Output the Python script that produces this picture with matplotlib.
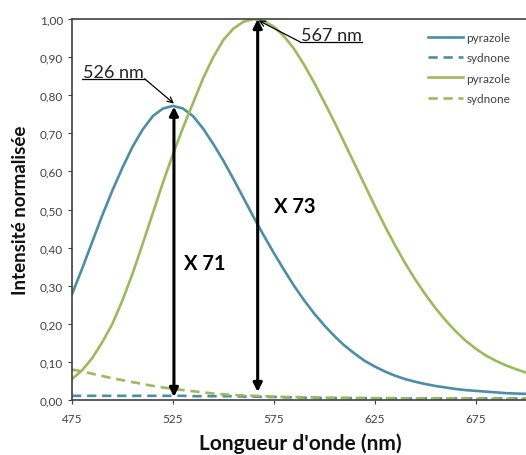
import numpy as np
import matplotlib
matplotlib.use("Agg")
import matplotlib.pyplot as plt
from matplotlib.ticker import FuncFormatter

plt.rcParams['font.family'] = ['Lato', 'DejaVu Sans']

# Données
wl = list(range(475, 701, 5))

pyrazole_1 = [0.278, 0.345, 0.415, 0.485, 0.55, 0.61, 0.665, 0.71, 0.745, 0.765,
              0.772, 0.765, 0.745, 0.712, 0.672, 0.628, 0.58, 0.53, 0.48, 0.432,
              0.386, 0.342, 0.300, 0.262, 0.227, 0.196, 0.168, 0.143, 0.122, 0.103,
              0.088, 0.075, 0.064, 0.055, 0.048, 0.042, 0.037, 0.033, 0.029, 0.026,
              0.024, 0.022, 0.020, 0.018, 0.017, 0.016]
sydnone_1 = [0.011, 0.011, 0.011, 0.011, 0.011, 0.011, 0.011, 0.011, 0.011, 0.011,
             0.011, 0.011, 0.010, 0.010, 0.010, 0.010, 0.010, 0.009, 0.009, 0.008,
             0.008, 0.007, 0.007, 0.006, 0.006, 0.005, 0.005, 0.005, 0.005, 0.005,
             0.004, 0.004, 0.004, 0.004, 0.004, 0.004, 0.004, 0.004, 0.004, 0.004,
             0.004, 0.004, 0.004, 0.004, 0.004, 0.004]
pyrazole_2 = [0.055, 0.078, 0.11, 0.152, 0.20, 0.262, 0.332, 0.41, 0.49, 0.57,
              0.645, 0.715, 0.78, 0.845, 0.90, 0.945, 0.975, 0.993, 1.0, 0.995,
              0.98, 0.955, 0.922, 0.88, 0.833, 0.782, 0.73, 0.675, 0.62, 0.565,
              0.51, 0.457, 0.407, 0.36, 0.317, 0.278, 0.242, 0.21, 0.181, 0.156,
              0.135, 0.117, 0.103, 0.091, 0.081, 0.072]
sydnone_2 = [0.08, 0.075, 0.069, 0.063, 0.057, 0.052, 0.047, 0.042, 0.037, 0.033,
             0.029, 0.026, 0.023, 0.020, 0.017, 0.015, 0.013, 0.012, 0.011, 0.010,
             0.009, 0.008, 0.008, 0.007, 0.007, 0.006, 0.006, 0.006, 0.005, 0.005,
             0.005, 0.005, 0.005, 0.004, 0.004, 0.004, 0.004, 0.004, 0.004, 0.004,
             0.003, 0.003, 0.003, 0.003, 0.003, 0.003]

labels = ["pyrazole", "sydnone", "pyrazole", "sydnone"]
peak_1 = (526, 0.772)
peak_2 = (567, 1.0)
base_1 = 0.008
base_2 = 0.021
xticks = [475, 525, 575, 625, 675]
yticks = np.arange(0, 1.01, 0.1)

blue = '#4a8fa6'
green = '#9bbb59'

fig = plt.figure(figsize=(5.26, 4.56), dpi=100)
ax = fig.add_axes([0.137, 0.1206, 0.863, 0.8355])

ax.plot(wl, pyrazole_1, color=blue, lw=1.9, label=labels[0])
ax.plot(wl, sydnone_1, color=blue, lw=1.9, dashes=(3.5, 2.2), label=labels[1])
ax.plot(wl, pyrazole_2, color=green, lw=1.9, label=labels[2])
ax.plot(wl, sydnone_2, color=green, lw=1.9, dashes=(3.5, 2.2), label=labels[3])

ax.set_xlim(475, 700)
ax.set_ylim(0, 1)
ax.set_xticks(xticks)
ax.set_yticks(yticks)
ax.yaxis.set_major_formatter(FuncFormatter(lambda v, p: f"{v:.2f}".replace('.', ',')))
ax.tick_params(labelsize=8.5, colors='#404040', length=3, width=0.8)
ax.tick_params(axis='x', pad=6)

for s in ['left', 'bottom', 'top']:
    ax.spines[s].set_color('#404040')
    ax.spines[s].set_linewidth(1.2)
ax.spines['right'].set_visible(False)

ax.set_xlabel("Longueur d'onde (nm)", fontsize=15, fontweight='bold', color='#111111')
ax.set_ylabel("Intensité normalisée", fontsize=13.5, fontweight='bold', color='#111111')
ax.xaxis.label.set_va('baseline')
ax.xaxis.set_label_coords(0.502, -0.1286)
ax.yaxis.label.set_va('center')
ax.yaxis.set_label_coords(-0.1145, 0.5)

# doubles flèches
arrow = dict(arrowstyle='<|-|>', lw=2.2, color='black', mutation_scale=13,
             shrinkA=0, shrinkB=0)
ax.annotate('', xy=(peak_1[0] - 0.5, peak_1[1] - 0.002), xytext=(peak_1[0] - 0.5, base_1),
            arrowprops=arrow)
ax.annotate('', xy=(peak_2[0], peak_2[1]), xytext=(peak_2[0], base_2),
            arrowprops=arrow)
ax.text(530.5, 0.36, 'X 71', fontsize=14.5, fontweight='bold', va='center')
ax.text(575, 0.51, 'X 73', fontsize=14.5, fontweight='bold', va='center')

# étiquettes des maxima
ax.plot([480, 511], [0.843, 0.843], color='black', lw=0.9)
ax.text(480.5, 0.849, '526 nm', fontsize=13, va='baseline', color='#222222')
ax.annotate('', xy=(peak_1[0] - 0.5, peak_1[1] + 0.006), xytext=(511, 0.843),
            arrowprops=dict(arrowstyle='->', lw=0.9, color='black', shrinkA=0, shrinkB=0))
ax.plot([588, 618.6], [0.94, 0.94], color='black', lw=0.9)
ax.text(588.5, 0.946, '567 nm', fontsize=13, va='baseline', color='#222222')
ax.annotate('', xy=(peak_2[0] + 0.5, peak_2[1] - 0.004), xytext=(588, 0.94),
            arrowprops=dict(arrowstyle='->', lw=0.9, color='black', shrinkA=0, shrinkB=0))

ax.legend(loc='upper right', bbox_to_anchor=(0.976, 0.979), borderaxespad=0,
          frameon=False, fontsize=8.5, handlelength=2.9, labelspacing=0.8,
          handletextpad=0.3, labelcolor='#404040')

fig.savefig('out.png', dpi=100)
